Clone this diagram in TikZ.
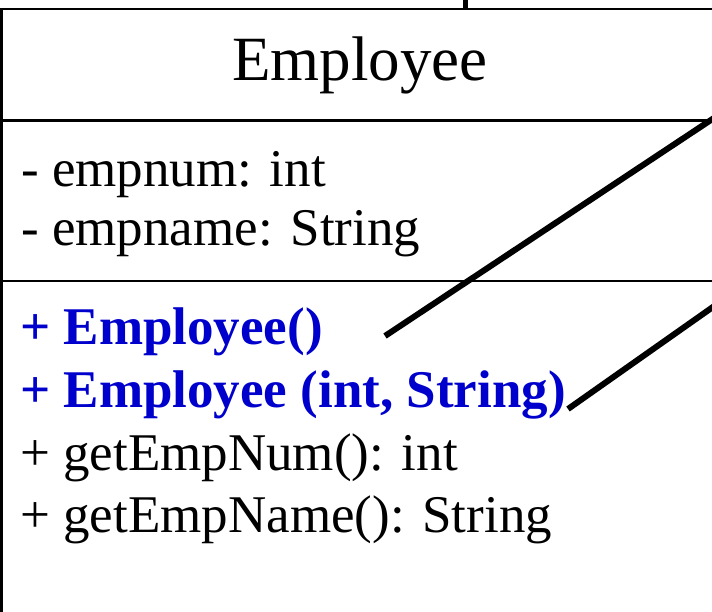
\documentclass[tikz,border=0pt]{standalone}
\usepackage{fontspec}
\setmainfont{Liberation Serif}
\usetikzlibrary{positioning}
\definecolor{ctorblue}{RGB}{0,0,204}
\tikzset{
  classline/.style={line width=2.5pt},
  member/.style={anchor=base west, inner sep=0pt, font=\fontsize{53}{63}\selectfont},
  ctor/.style={member, font=\fontsize{53}{63}\selectfont\bfseries, text=ctorblue},
  pointer/.style={line width=6pt},
}
\begin{document}
\begin{tikzpicture}[x=1pt,y=-1pt]
	\useasboundingbox (0,0) rectangle (712,612);
	\clip (0,0) rectangle (712,612);
	% class box, cut off at the right and bottom
	\draw[classline] (1.5,9) rectangle (740,640);
	\draw[classline] (1.5,120.5) -- (740,120.5);
	\draw[classline] (1.5,281) -- (740,281);
	\draw[line width=5pt] (465,0) -- (465,9);
	\node[anchor=base, inner sep=0pt, font=\fontsize{63}{75}\selectfont] (title) at (360,81) {Employee};
	% attributes
	\node[member] (num) at (21,187) {- empnum: int};
	\node[member] (name) at (21,246) {- empname: String};
	% operations
	\node[ctor] (ctorA) at (20,344) {+ Employee()};
	\node[ctor] (ctorB) at (20,407) {+ Employee (int, String)};
	\node[member] (getnum) at (20,470) {+ getEmpNum(): int};
	\node[member] (getname) at (20,532) {+ getEmpName(): String};
	% pointers coming in from the right
	\coordinate (inA) at (720,114);
	\coordinate (endA) at (385,336);
	\coordinate (inB) at (720,302);
	\coordinate (endB) at (568,409);
	\draw[pointer] (inA) -- (endA);
	\draw[pointer] (inB) -- (endB);
\end{tikzpicture}
\end{document}
